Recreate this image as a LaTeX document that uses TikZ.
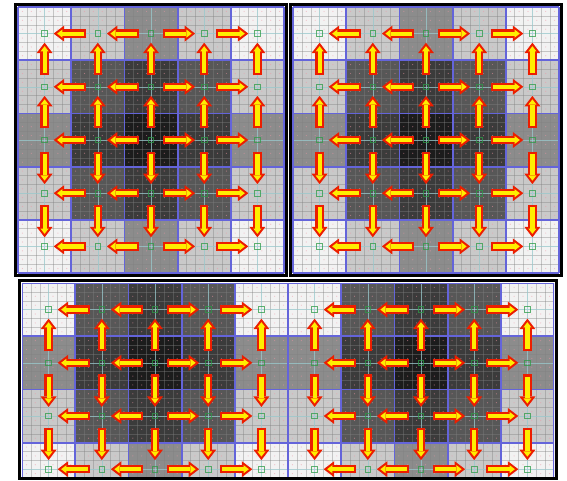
\documentclass[tikz,border=0pt]{standalone}
\usetikzlibrary{arrows.meta}
\definecolor{seamblue}{RGB}{100,100,218}
\definecolor{flowred}{RGB}{236,30,0}
\definecolor{flowyel}{RGB}{255,238,0}
\definecolor{probegreen}{RGB}{45,155,70}
\definecolor{dotpink}{RGB}{238,150,165}
\definecolor{axcyan}{RGB}{160,220,225}
\tikzset{
  lv0/.style={fill=black!5},
  lv1/.style={fill=black!21},
  lv2/.style={fill=black!45},
  lv3/.style={fill=black!66},
  lv4/.style={fill=black!77},
  lv5/.style={fill=black!89},
  fine/.style={draw=black!50,line width=.4pt,draw opacity=.4},
  dots/.style={draw=dotpink,draw opacity=.55,line width=1.2pt,line cap=round,dash pattern=on 0pt off 8.8667pt},
  axis/.style={draw=axcyan,line width=.5pt,draw opacity=.6},
  seam/.style={draw=seamblue,line width=1.8pt},
  frm/.style={draw=black,line width=2.6pt},
  probe/.style={rectangle,draw=probegreen,draw opacity=.75,line width=.9pt,minimum size=5.5pt,inner sep=0pt,outer sep=0pt},
  % the block arrows: a yellow core drawn over a wider red one
  flow/.style={draw=flowyel,line width=4.2pt,shorten <=11pt,shorten >=9.8pt,
    -{Triangle[length=5.2pt,width=8pt,line width=0pt]},
    preaction={draw=flowred,line width=8.4pt,shorten <=8.8pt,shorten >=6.3pt,
      -{Triangle[length=10.5pt,width=16pt,line width=0pt]}}},
}

\begin{document}
\begin{tikzpicture}[x=1pt,y=-1pt]
\useasboundingbox (0,0) rectangle (567,480);
% the two square maps on top
\foreach \p/\ox in {a/18,b/293}{
  \foreach \lvls [count=\r] in {{0,1,2,1,0},{1,3,4,3,1},{2,4,5,4,2},{1,3,4,3,1},{0,1,2,1,0}}{
    \foreach \lv [count=\c] in \lvls
      \path[lv\lv] ({\ox+(\c-1)*53.2},{7+(\r-1)*53.2}) rectangle ++(53.2,53.2);
  }
  \foreach \k in {1,...,29}{
    \draw[fine] ({\ox+\k*8.8667},7) -- ++(0,266);
    \draw[fine] (\ox,{7+\k*8.8667}) -- ++(266,0);
  }
  \foreach \k in {0,...,29}
    \draw[dots] ({\ox+4.4333},{11.4333+\k*8.8667}) -- ++(262,0);
  \foreach \k in {0,...,4}{
    \draw[axis] ({\ox+26.6+\k*53.2},7) -- ++(0,266);
    \draw[axis] (\ox,{33.6+\k*53.2}) -- ++(266,0);
  }
  \foreach \k in {0,...,5}{
    \draw[seam] ({\ox+\k*53.2},7) -- ++(0,266);
    \draw[seam] (\ox,{7+\k*53.2}) -- ++(266,0);
  }
  \draw[frm] ({\ox-2.5},4.5) rectangle ({\ox+268.5},275.5);
  \foreach \r in {1,...,5}
    \foreach \c in {1,...,5}
      \node[probe] (\p-\r-\c) at ({\ox+26.6+(\c-1)*53.2},{33.6+(\r-1)*53.2}) {};
  \foreach \r in {1,...,5}
    \foreach \s/\t in {3/2,2/1,3/4,4/5}{
      \draw[flow] (\p-\r-\s) -- (\p-\r-\t);
      \draw[flow] (\p-\s-\r) -- (\p-\t-\r);
    }
}
% the wide map below, cut off at the bottom
\begin{scope}
\clip (22,283) rectangle (554,477.2);
\foreach \lvls [count=\r] in {{0,3,4,3,0,0,3,4,3,0},{2,4,5,4,2,2,4,5,4,2},{1,3,4,3,1,1,3,4,3,1},{0,1,2,1,0,0,1,2,1,0}}{
  \foreach \lv [count=\c] in \lvls
    \path[lv\lv] ({22+(\c-1)*53.2},{283+(\r-1)*53.2}) rectangle ++(53.2,53.2);
}
\foreach \k in {1,...,59}
  \draw[fine] ({22+\k*8.8667},283) -- ++(0,213);
\foreach \k in {1,...,23}
  \draw[fine] (22,{283+\k*8.8667}) -- ++(532,0);
\foreach \k in {0,...,22}
  \draw[dots] (26.4333,{287.4333+\k*8.8667}) -- ++(528,0);
\foreach \k in {0,...,9}
  \draw[axis] ({48.6+\k*53.2},283) -- ++(0,213);
\foreach \k in {0,...,3}
  \draw[axis] (22,{309.6+\k*53.2}) -- ++(532,0);
\foreach \k in {0,...,10}
  \draw[seam] ({22+\k*53.2},283) -- ++(0,213);
\foreach \k in {0,...,3}
  \draw[seam] (22,{283+\k*53.2}) -- ++(532,0);
\foreach \r in {1,...,4}
  \foreach \c in {1,...,10}
    \node[probe] (c-\r-\c) at ({48.6+(\c-1)*53.2},{309.6+(\r-1)*53.2}) {};
\end{scope}
\draw[frm] (19.5,280.5) rectangle (556.5,478.6);
\foreach \r in {1,...,4}
  \foreach \s/\t in {3/2,2/1,3/4,4/5,8/7,7/6,8/9,9/10}
    \draw[flow] (c-\r-\s) -- (c-\r-\t);
\foreach \c in {1,...,10}
  \foreach \s/\t in {2/1,2/3,3/4}
    \draw[flow] (c-\s-\c) -- (c-\t-\c);
\end{tikzpicture}
\end{document}
